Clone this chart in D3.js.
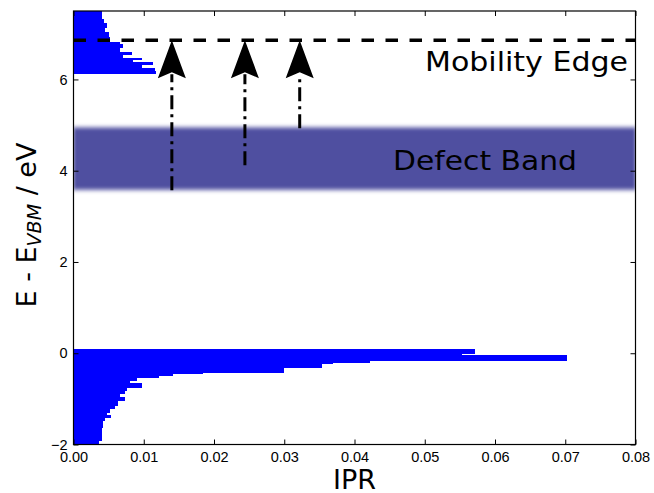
<!DOCTYPE html>
<html>
<head>
<meta charset="utf-8">
<script src="https://cdn.jsdelivr.net/npm/d3@7"></script>
<style>
  body { margin: 0; background: #fff; }
  svg { display: block; font-family: "DejaVu Sans", sans-serif; }
  .tick text { font-size: 14.5px; fill: #000; }
  .tick line { stroke: #000; stroke-width: 1; }
  .frame { fill: none; stroke: #000; stroke-width: 1.2; }
  .bar { fill: #0000ff; shape-rendering: crispEdges; }
  .edge { fill: none; stroke: #000; stroke-width: 3.5; stroke-dasharray: 12.5 11.5; }
  .shaft { fill: none; stroke: #000; stroke-width: 3; stroke-dasharray: 14 5 3 5; }
  .head { fill: #000; }
  .note { font-size: 27px; fill: #000; }
  .label { font-size: 27px; fill: #000; }
</style>
</head>
<body>
<svg id="chart" width="654" height="493"></svg>
<script>
// axis ticks
const xTicks = [0, 0.01, 0.02, 0.03, 0.04, 0.05, 0.06, 0.07, 0.08];
const yTicks = [-2, 0, 2, 4, 6];

// conduction band states: bin edges (eV) and IPR of each bin
const cbEdges = [7.50, 7.325, 7.23, 7.13, 7.03, 6.94, 6.83, 6.77, 6.70, 6.61,
                 6.55, 6.48, 6.43, 6.38, 6.32, 6.24, 6.18, 6.13];
const cbIpr = [0.0040, 0.0043, 0.0047, 0.0045, 0.0050, 0.0052, 0.0066, 0.0071,
               0.0066, 0.0083, 0.0071, 0.0097, 0.0085, 0.0113, 0.0097, 0.0116, 0.0118];

// valence band states
const vbEdges = [0.088, -0.011, -0.033, -0.154, -0.197, -0.230, -0.32, -0.41,
                 -0.445, -0.482, -0.52, -0.592, -0.643, -0.739, -0.811, -0.884,
                 -0.958, -1.031, -1.14, -1.213, -1.287, -1.36, -1.397, -1.47,
                 -1.616, -1.798, -1.90, -1.97, -2.05];
const vbIpr = [0.0572, 0.0553, 0.0703, 0.0422, 0.0370, 0.0354, 0.0299, 0.0185,
               0.0142, 0.0122, 0.0090, 0.0080, 0.0097, 0.0076, 0.0073, 0.0066,
               0.0073, 0.0064, 0.0059, 0.0052, 0.0047, 0.0054, 0.0045, 0.0042,
               0.0041, 0.0040, 0.0037, 0.0035];

// defect band range, mobility edge and the arrows (IPR, start energy)
const defectBand = [3.58, 4.95];
const mobilityEdge = 6.86;
const arrowIpr = [0.0140, 0.0244, 0.0322];
const arrowFrom = [3.57, 4.12, 4.93];

const svg = d3.select('#chart');
const x = d3.scaleLinear().domain([0, 0.08]).range([73.5, 635.5]);
const y = d3.scaleLinear().domain([-2, 7.5]).range([444.5, 11]);
const [x0, x1] = x.range();
const [y0, y1] = y.range();

const defs = svg.append('defs');
defs.append('clipPath').attr('id', 'plot')
  .append('rect').attr('x', x0).attr('y', y1).attr('width', x1 - x0).attr('height', y0 - y1);
defs.append('filter').attr('id', 'blur')
  .attr('x', '-5%').attr('y', '-50%').attr('width', '110%').attr('height', '200%')
  .append('feGaussianBlur').attr('stdDeviation', '1.5 2.2');

const plot = svg.append('g').attr('clip-path', 'url(#plot)');

// histogram-like bars
function bars(edges, vals) {
  plot.append('g').selectAll('rect')
    .data(vals)
    .join('rect')
      .attr('class', 'bar')
      .attr('x', x(0))
      .attr('y', (d, i) => y(edges[i]))
      .attr('width', d => x(d) - x(0))
      .attr('height', (d, i) => y(edges[i + 1]) - y(edges[i]) + 0.6);
}
bars(cbEdges, cbIpr);
bars(vbEdges, vbIpr);

// blurred defect band
plot.append('rect')
  .attr('x', x0).attr('width', x1 - x0)
  .attr('y', y(defectBand[1]))
  .attr('height', y(defectBand[0]) - y(defectBand[1]))
  .attr('fill', '#5050a0')
  .attr('filter', 'url(#blur)');

// mobility edge
plot.append('line').attr('class', 'edge')
  .attr('x1', x0).attr('x2', x1)
  .attr('y1', y(mobilityEdge)).attr('y2', y(mobilityEdge));

// arrows
const headLen = 34;
arrowIpr.forEach((v, i) => {
  const cx = x(v), tip = y(mobilityEdge);
  plot.append('line').attr('class', 'shaft')
    .attr('x1', cx).attr('x2', cx)
    .attr('y1', y(arrowFrom[i])).attr('y2', tip + headLen);
  plot.append('path').attr('class', 'head')
    .attr('d', `M${cx},${tip} L${cx - 14},${tip + 38} L${cx},${tip + 32} L${cx + 14},${tip + 38} Z`);
});

// annotations
svg.append('text').attr('class', 'note')
  .attr('x', 425).attr('y', 71)
  .attr('textLength', 203).attr('lengthAdjust', 'spacingAndGlyphs')
  .text('Mobility Edge');
svg.append('text').attr('class', 'note')
  .attr('x', 393).attr('y', 170)
  .attr('textLength', 184).attr('lengthAdjust', 'spacingAndGlyphs')
  .text('Defect Band');

// axes (ticks pointing inward on all four sides)
const tk = 5;
svg.append('g').attr('transform', `translate(0,${y0})`)
  .call(d3.axisBottom(x).tickValues(xTicks).tickSizeInner(-tk).tickSizeOuter(0)
    .tickPadding(7).tickFormat(d3.format('.2f')))
  .call(g => g.select('.domain').remove());
svg.append('g').attr('transform', `translate(0,${y1})`)
  .call(d3.axisTop(x).tickValues(xTicks).tickSizeInner(-tk).tickSizeOuter(0).tickFormat(''))
  .call(g => g.select('.domain').remove());
svg.append('g').attr('transform', `translate(${x0},0)`)
  .call(d3.axisLeft(y).tickValues(yTicks).tickSizeInner(-tk).tickSizeOuter(0).tickPadding(6))
  .call(g => g.select('.domain').remove());
svg.append('g').attr('transform', `translate(${x1},0)`)
  .call(d3.axisRight(y).tickValues(yTicks).tickSizeInner(-tk).tickSizeOuter(0).tickFormat(''))
  .call(g => g.select('.domain').remove());
svg.selectAll('.tick text').attr('font-family', null).attr('font-size', null);

svg.append('rect').attr('class', 'frame')
  .attr('x', x0).attr('y', y1).attr('width', x1 - x0).attr('height', y0 - y1);

// axis labels
svg.append('text').attr('class', 'label')
  .attr('x', (x0 + x1) / 2).attr('y', 488.5).attr('text-anchor', 'middle')
  .attr('font-size', 23)
  .text('IPR');
const yl = svg.append('text').attr('class', 'label')
  .attr('transform', 'translate(36,225) rotate(-90)')
  .attr('text-anchor', 'middle');
yl.append('tspan').text('E - E');
yl.append('tspan').attr('font-size', 19).attr('font-style', 'italic').attr('dy', 5).text('VBM');
yl.append('tspan').attr('dy', -5).text(' / eV');
</script>
</body>
</html>
